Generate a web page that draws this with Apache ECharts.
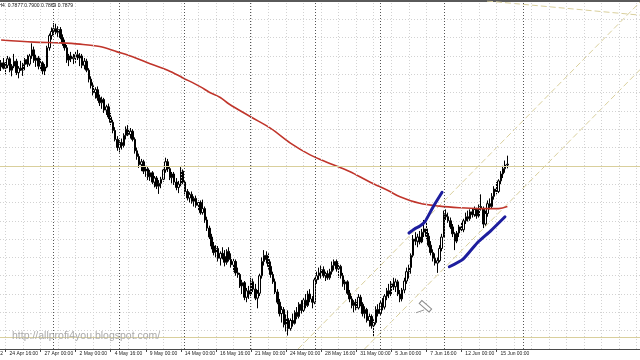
<!DOCTYPE html>
<html><head><meta charset="utf-8">
<script src="https://cdn.jsdelivr.net/npm/echarts@6/dist/echarts.min.js"></script>
<style>html,body{margin:0;padding:0;background:#fff}#c{width:640px;height:360px}</style>
</head><body><div id="c"></div>
<script>
// ---- NZDUSD H4 prices in pips (price = pips / 10000) ----
const OPEN=[8118,8128,8115,8122,8138,8110,8120,8132,8104,8115,
8110,8124,8136,8125,8145,8160,8134,8140,8120,8128,
8108,8118,8165,8195,8205,8212,8203,8210,8190,8176,
8165,8135,8145,8138,8142,8148,8140,8145,8122,8132,
8110,8088,8072,8055,8062,8042,8030,8038,8012,8020,
7995,7982,7962,7940,7920,7932,7925,7950,7965,7952,
7960,7940,7912,7898,7878,7885,7862,7868,7848,7858,
7835,7845,7825,7832,7842,7865,7885,7868,7846,7855,
7835,7822,7830,7862,7835,7812,7796,7805,7788,7795,
7778,7785,7760,7770,7742,7722,7700,7678,7662,7672,
7648,7660,7652,7638,7665,7645,7632,7640,7612,7608,
7580,7588,7552,7568,7560,7590,7572,7550,7562,7605,
7640,7655,7645,7628,7608,7590,7565,7540,7512,7522,
7485,7500,7475,7495,7488,7515,7505,7535,7520,7545,
7532,7560,7548,7540,7595,7605,7612,7620,7605,7610,
7600,7615,7630,7640,7622,7628,7605,7585,7590,7562,
7548,7532,7540,7526,7552,7535,7512,7522,7495,7505,
7482,7490,7522,7512,7538,7528,7555,7568,7560,7585,
7578,7590,7560,7548,7570,7592,7615,7625,7655,7695,
7690,7700,7688,7712,7720,7702,7680,7662,7648,7636,
7642,7672,7700,7755,7750,7740,7725,7708,7690,7710,
7725,7718,7740,7750,7745,7762,7755,7768,7752,7775,
7770,7732,7758,7782,7775,7800,7818,7812,7838,7855,
7868,7877];
const HIGH=[8135,8140,8130,8145,8142,8125,8150,8138,8120,8133,
8128,8140,8148,8150,8176,8168,8148,8145,8138,8132,
8125,8170,8200,8215,8226,8224,8218,8216,8198,8185,
8172,8150,8155,8150,8155,8160,8152,8150,8140,8138,
8115,8095,8080,8068,8070,8050,8045,8042,8025,8028,
8005,7988,7970,7948,7938,7942,7955,7972,7975,7968,
7965,7945,7920,7905,7892,7890,7875,7872,7865,7862,
7850,7850,7840,7848,7870,7895,7892,7872,7860,7860,
7845,7838,7872,7866,7840,7818,7810,7812,7800,7802,
7790,7790,7792,7775,7750,7728,7708,7688,7680,7678,
7665,7675,7668,7670,7675,7660,7648,7645,7625,7612,
7595,7592,7575,7580,7600,7598,7585,7570,7610,7650,
7668,7665,7660,7640,7615,7598,7572,7548,7530,7528,
7510,7520,7500,7512,7520,7528,7540,7545,7550,7560,
7568,7572,7555,7600,7615,7625,7630,7628,7615,7618,
7622,7640,7645,7645,7635,7632,7612,7595,7594,7570,
7555,7545,7548,7560,7558,7540,7530,7526,7512,7510,
7498,7530,7535,7545,7550,7560,7575,7585,7592,7600,
7598,7595,7570,7575,7600,7625,7632,7660,7705,7712,
7708,7715,7720,7742,7735,7710,7690,7670,7660,7650,
7680,7708,7765,7768,7760,7748,7732,7712,7715,7730,
7735,7745,7760,7765,7768,7770,7775,7772,7780,7805,
7775,7765,7790,7795,7808,7825,7835,7842,7862,7875,
7888,7900];
const LOW=[8108,8112,8100,8115,8105,8095,8115,8098,8090,8108,
8096,8110,8118,8120,8138,8128,8118,8112,8110,8100,
8098,8115,8158,8185,8196,8198,8192,8186,8170,8158,
8128,8120,8130,8125,8128,8135,8120,8115,8112,8105,
8080,8065,8048,8040,8035,8022,8015,8005,8000,7990,
7975,7955,7935,7912,7908,7915,7920,7940,7948,7942,
7935,7905,7890,7870,7862,7855,7848,7840,7838,7830,
7822,7818,7806,7820,7836,7858,7860,7840,7832,7828,
7815,7808,7825,7830,7805,7790,7785,7782,7775,7772,
7765,7755,7755,7735,7715,7695,7670,7655,7650,7640,
7630,7645,7628,7632,7640,7625,7615,7605,7600,7575,
7560,7545,7540,7548,7555,7565,7545,7525,7555,7598,
7630,7635,7620,7600,7585,7560,7535,7505,7490,7478,
7468,7458,7470,7480,7485,7498,7500,7512,7515,7525,
7528,7540,7525,7535,7585,7595,7598,7600,7592,7595,
7595,7608,7618,7615,7600,7598,7578,7570,7558,7540,
7525,7515,7520,7522,7530,7505,7500,7490,7480,7475,
7452,7485,7505,7508,7520,7522,7545,7550,7555,7570,
7565,7555,7540,7542,7562,7585,7598,7610,7650,7680,
7675,7682,7685,7700,7695,7675,7655,7640,7630,7612,
7638,7665,7700,7742,7735,7720,7700,7668,7685,7700,
7712,7712,7732,7738,7740,7748,7750,7745,7748,7765,
7722,7728,7750,7768,7770,7792,7805,7808,7830,7845,
7858,7869];
const CLOSE=[8128,8115,8122,8138,8110,8120,8132,8104,8115,8110,
8124,8136,8125,8145,8160,8134,8140,8120,8128,8108,
8118,8165,8195,8205,8212,8203,8210,8190,8176,8165,
8135,8145,8138,8142,8148,8140,8145,8122,8132,8110,
8088,8072,8055,8062,8042,8030,8038,8012,8020,7995,
7982,7962,7940,7920,7932,7925,7950,7965,7952,7960,
7940,7912,7898,7878,7885,7862,7868,7848,7858,7835,
7845,7825,7832,7842,7865,7885,7868,7846,7855,7835,
7822,7830,7862,7835,7812,7796,7805,7788,7795,7778,
7785,7760,7770,7742,7722,7700,7678,7662,7672,7648,
7660,7652,7638,7665,7645,7632,7640,7612,7608,7580,
7588,7552,7568,7560,7590,7572,7550,7562,7605,7640,
7655,7645,7628,7608,7590,7565,7540,7512,7522,7485,
7500,7475,7495,7488,7515,7505,7535,7520,7545,7532,
7560,7548,7540,7595,7605,7612,7620,7605,7610,7600,
7615,7630,7640,7622,7628,7605,7585,7590,7562,7548,
7532,7540,7526,7552,7535,7512,7522,7495,7505,7482,
7490,7522,7512,7538,7528,7555,7568,7560,7585,7578,
7590,7560,7548,7570,7592,7615,7625,7655,7695,7690,
7700,7688,7712,7720,7702,7680,7662,7648,7636,7642,
7672,7700,7755,7750,7740,7725,7708,7690,7710,7725,
7718,7740,7750,7745,7762,7755,7768,7752,7775,7770,
7732,7758,7782,7775,7800,7818,7812,7838,7855,7868,
7877,7879];

// moving average: bar index / value in pips
const MA_IDX=[0,15,27,36,45,53,60,68,76,83,91,95,100,104,114,123,132,141,150,159,168,177,182,191,200,209,218,227,231];
const MA_VAL=[8184,8179,8177,8174,8168,8155,8143,8126,8110,8091,8069,8056,8043,8027,7995,7967,7931,7902,7881,7861,7836,7813,7799,7783,7776,7772,7770,7770,7775];

// time axis labels
const TICK_IDX=[2,18,34,50,66,82,98,114,130,146,162,178,194,210,226];
const TICK_LABELS=['24 Apr 16:00','27 Apr 00:00','2 May 00:00','4 May 16:00','9 May 00:00','14 May 00:00','16 May 16:00','21 May 00:00','24 May 00:00','28 May 16:00','31 May 00:00','5 Jun 00:00','7 Jun 16:00','12 Jun 00:00','15 Jun 00:00'];
const FIRST_LABEL='20 Apr 2012';

// week separators (bar positions)
const SEPARATORS=[23.7,53.8,83.5,113.6,143.2,172.9,202.1,238.1];
// horizontal levels (pips)
const LEVELS=[7875,7454];
// channel lines (bar position, pips)
const CHANNEL_UPPER_X=[135.5,292], CHANNEL_UPPER_Y=[7425,8280];
const CHANNEL_LOWER_X=[165.8,292], CHANNEL_LOWER_Y=[7425,8114];
const CHANNEL_TOP_X=[221.7,292], CHANNEL_TOP_Y=[8280,8245];
// hand-drawn blue trend lines
const BLUE1_X=[186.1,188.6,191.1,193.4,197.1,201.2], BLUE1_Y=[7710,7720,7727,7738,7774,7810];
const BLUE2_X=[204.5,210.8,217.1,223.5,229.9], BLUE2_Y=[7627,7646,7685,7716,7750];
const HEADER='NZDUSD,H4  0.7877 0.7900 0.7869 0.7879';
const WATERMARK='http://allprofi4you.blogspot.com/';

const SLOTS=292;
const cats=Array.from({length:SLOTS},(_,i)=>String(i));
const candles=OPEN.map((o,i)=>[o,CLOSE[i],LOW[i],HIGH[i]]);
const tickMap=new Map(TICK_IDX.map((v,i)=>[v,TICK_LABELS[i]]));
const pairs=(xs,ys)=>xs.map((x,i)=>[x,ys[i]]);
const vgrid=[];for(let i=2;i<SLOTS;i+=8)vgrid.push({xAxis:i});

const TAN='#d9cf9c';
const chart=echarts.init(document.getElementById('c'),null,{renderer:'canvas'});
const option={
  animation:false,
  backgroundColor:'#ffffff',
  grid:{left:0,right:0,top:1,bottom:11,containLabel:false},
  xAxis:[
    {type:'category',data:cats,boundaryGap:true,position:'bottom',
     axisLine:{show:true,lineStyle:{color:'#4a4a4a',width:1}},
     axisTick:{show:true,interval:(i)=>tickMap.has(i),alignWithLabel:true,length:3,lineStyle:{color:'#4a4a4a'}},
     axisLabel:{show:true,interval:(i)=>tickMap.has(i),formatter:(v)=>tickMap.get(Number(v))||'',
       align:'left',padding:[0,0,0,4],margin:2,fontSize:5,fontFamily:'Liberation Sans',color:'#1a1a1a'},
     splitLine:{show:false}},
    {type:'value',min:-0.5,max:SLOTS-0.5,position:'top',
     axisLine:{show:true,onZero:false,lineStyle:{color:'#5a5a5a',width:2}},
     axisTick:{show:false},axisLabel:{show:false},splitLine:{show:false}}
  ],
  yAxis:{type:'value',min:7425,max:8280,interval:45,position:'right',
    axisLine:{show:false},axisTick:{show:false},axisLabel:{show:false},
    splitLine:{show:true,lineStyle:{color:'#d2d2d2',type:[1,2],width:1}}},
  series:[
    {type:'line',xAxisIndex:1,data:[],z:1,silent:true,
     markLine:{silent:true,symbol:['none','none'],label:{show:false},animation:false,
       data:[
         ...vgrid.map(d=>({xAxis:d.xAxis,lineStyle:{color:'#d2d2d2',type:[1,2],width:1}})),
         ...SEPARATORS.map(s=>({xAxis:s,lineStyle:{color:'#555555',type:[1,2],width:1}})),
         ...LEVELS.map(l=>({yAxis:l,lineStyle:{color:TAN,type:'solid',width:1}}))
       ]}},
    {type:'line',xAxisIndex:1,data:pairs(CHANNEL_UPPER_X,CHANNEL_UPPER_Y),symbol:'none',z:2,silent:true,
     lineStyle:{color:TAN,width:1,type:[6,3]}},
    {type:'line',xAxisIndex:1,data:pairs(CHANNEL_LOWER_X,CHANNEL_LOWER_Y),symbol:'none',z:2,silent:true,
     lineStyle:{color:TAN,width:1,type:[6,3]}},
    {type:'line',xAxisIndex:1,data:pairs(CHANNEL_TOP_X,CHANNEL_TOP_Y),symbol:'none',z:2,silent:true,
     lineStyle:{color:TAN,width:1,type:[6,3]}},
    {type:'candlestick',xAxisIndex:0,yAxisIndex:0,data:candles,barWidth:2,z:3,
     itemStyle:{color:'#ffffff',color0:'#000000',borderColor:'#000000',borderColor0:'#000000',borderWidth:1}},
    {type:'line',xAxisIndex:1,data:pairs(MA_IDX,MA_VAL),symbol:'none',smooth:0.35,z:4,silent:true,
     lineStyle:{color:'#c0352b',width:1.6}},
    {type:'line',xAxisIndex:1,data:pairs(BLUE1_X,BLUE1_Y),symbol:'none',smooth:0.2,z:5,silent:true,
     lineStyle:{color:'#1e1e9e',width:3,cap:'round'}},
    {type:'line',xAxisIndex:1,data:pairs(BLUE2_X,BLUE2_Y),symbol:'none',smooth:0.2,z:5,silent:true,
     lineStyle:{color:'#1e1e9e',width:3,cap:'round'}}
  ]
};
chart.setOption(option);

const px=(x,y)=>chart.convertToPixel({xAxisIndex:1,yAxisIndex:0},[x,y]);
const pen=px(193.6,7530);
const dash0=px(189.3,7514), dash1=px(193.0,7521);
chart.setOption({graphic:[
  {type:'text',x:73,y:6,silent:true,z:10,
   style:{text:HEADER,fill:'#111',font:'5px "Liberation Sans"',align:'right',verticalAlign:'middle'}},
  {type:'text',x:12,y:336,silent:true,z:10,
   style:{text:WATERMARK,fill:'#aaaaaa',font:'10.5px "Liberation Sans"',align:'left',verticalAlign:'middle'}},
  {type:'text',x:3,y:351,silent:true,z:10,
   style:{text:FIRST_LABEL,fill:'#1a1a1a',font:'5px "Liberation Sans"',align:'right',verticalAlign:'top'}},
  {type:'rect',x:pen[0],y:pen[1],rotation:-0.72,silent:true,z:10,
   shape:{x:-6.5,y:-2,width:13,height:4},style:{fill:'#ffffff',stroke:'#8a8a8a',lineWidth:1}},
  {type:'line',silent:true,z:10,shape:{x1:dash0[0],y1:dash0[1],x2:dash1[0],y2:dash1[1]},
   style:{stroke:'#9a9a9a',lineWidth:1}}
]});
</script></body></html>
